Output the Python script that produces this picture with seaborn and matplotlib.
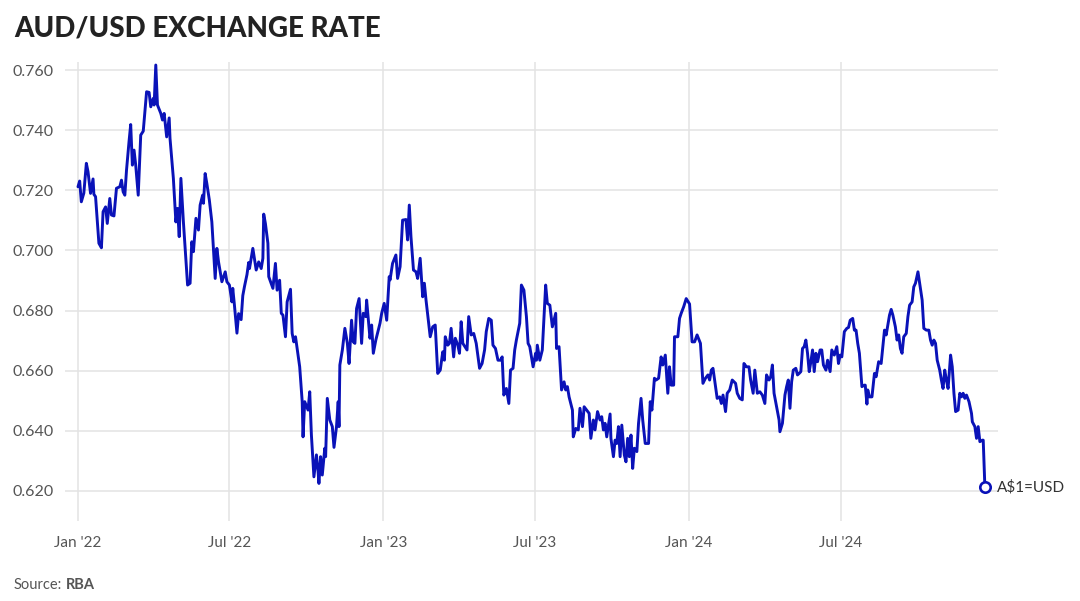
import numpy as np
import pandas as pd
import matplotlib
matplotlib.use("Agg")
import matplotlib.pyplot as plt
import matplotlib.dates as mdates
import seaborn as sns

# ---- data ----
start_date = "2022-01-01"
days = [0, 2, 4, 7, 10, 12, 15, 18, 19, 21, 25, 28, 30, 33, 35, 38, 40, 43, 46, 50,
        52, 54, 56, 58, 61, 63, 65, 67, 69, 72, 75, 78, 80, 82, 85, 87, 90, 91, 93, 95,
        99, 101, 103, 106, 109, 110, 114, 117, 119, 121, 123, 126, 131, 134, 136, 138, 141, 144, 146, 149,
        150, 152, 154, 157, 160, 164, 166, 168, 172, 176, 178, 181, 184, 185, 187, 190, 192, 195, 197, 199,
        202, 204, 205, 209, 213, 216, 219, 221, 222, 224, 227, 228, 233, 236, 238, 241, 243, 245, 248, 250,
        254, 256, 258, 260, 265, 268, 269, 271, 275, 277, 279, 282, 285, 287, 288, 290, 292, 295, 296, 298,
        301, 304, 306, 309, 311, 312, 313, 316, 319, 322, 324, 327, 329, 331, 333, 336, 339, 341, 344, 345,
        349, 351, 353, 356, 361, 363, 366, 369, 372, 373, 376, 380, 382, 385, 388, 392, 394, 396, 398, 401,
        404, 406, 409, 412, 414, 416, 421, 424, 427, 430, 433, 436, 438, 439, 442, 444, 446, 449, 451, 454,
        456, 458, 460, 465, 467, 470, 473, 476, 480, 483, 486, 488, 491, 494, 496, 499, 502, 505, 507, 509,
        512, 515, 517, 520, 522, 524, 528, 530, 533, 536, 538, 540, 544, 547, 548, 549, 552, 555, 559, 561,
        564, 567, 571, 572, 575, 578, 581, 583, 585, 587, 591, 592, 595, 598, 600, 603, 605, 608, 611, 613,
        616, 618, 621, 624, 626, 628, 630, 632, 634, 636, 637, 640, 642, 644, 646, 648, 650, 653, 655, 657,
        659, 661, 663, 665, 668, 670, 673, 675, 678, 682, 684, 686, 689, 691, 694, 697, 699, 702, 705, 707,
        709, 712, 713, 717, 719, 721, 724, 727, 731, 734, 737, 740, 744, 747, 750, 753, 755, 757, 759, 762,
        764, 767, 769, 771, 774, 776, 779, 782, 786, 788, 791, 794, 796, 799, 802, 804, 807, 809, 812, 815,
        818, 821, 823, 826, 828, 830, 832, 835, 838, 839, 842, 845, 847, 849, 851, 853, 855, 858, 860, 862,
        864, 866, 868, 870, 872, 874, 876, 878, 880, 882, 884, 887, 889, 891, 894, 896, 899, 901, 904, 907,
        909, 911, 913, 916, 919, 921, 923, 926, 928, 930, 932, 934, 937, 940, 941, 943, 944, 946, 949, 952,
        954, 957, 960, 962, 964, 966, 970, 972, 974, 977, 979, 981, 983, 985, 987, 990, 992, 994, 997, 999,
        1001, 1004, 1006, 1009, 1011, 1014, 1017, 1019, 1021, 1023, 1025, 1027, 1030, 1032, 1034, 1036, 1038, 1040, 1043, 1045,
        1047, 1049, 1052, 1054, 1056, 1058, 1060, 1062, 1065, 1068, 1069, 1072, 1074, 1076, 1078, 1081, 1082, 1084]
rate = [0.7212, 0.7231, 0.7162, 0.7191, 0.7290, 0.7262, 0.7190, 0.7238, 0.7187, 0.7179,
        0.7024, 0.7009, 0.7129, 0.7145, 0.7090, 0.7173, 0.7118, 0.7115, 0.7207, 0.7212,
        0.7234, 0.7195, 0.7184, 0.7267, 0.7362, 0.7419, 0.7284, 0.7334, 0.7284, 0.7184,
        0.7384, 0.7397, 0.7461, 0.7528, 0.7526, 0.7478, 0.7506, 0.7484, 0.7617, 0.7484,
        0.7456, 0.7434, 0.7456, 0.7378, 0.7441, 0.7373, 0.7240, 0.7095, 0.7140, 0.7046,
        0.7240, 0.7095, 0.6885, 0.6891, 0.7029, 0.6996, 0.7107, 0.7068, 0.7151, 0.7184,
        0.7157, 0.7256, 0.7223, 0.7168, 0.7095, 0.6907, 0.7007, 0.6962, 0.6896, 0.6929,
        0.6896, 0.6885, 0.6829, 0.6874, 0.6818, 0.6725, 0.6790, 0.6770, 0.6850, 0.6880,
        0.6920, 0.6960, 0.6940, 0.7007, 0.6935, 0.6962, 0.6940, 0.6974, 0.7121, 0.7090,
        0.7024, 0.6913, 0.6874, 0.6957, 0.6868, 0.6901, 0.6791, 0.6785, 0.6713, 0.6829,
        0.6871, 0.6724, 0.6696, 0.6713, 0.6613, 0.6497, 0.6380, 0.6497, 0.6469, 0.6530,
        0.6386, 0.6247, 0.6320, 0.6264, 0.6225, 0.6314, 0.6253, 0.6342, 0.6314, 0.6508,
        0.6436, 0.6414, 0.6345, 0.6414, 0.6497, 0.6414, 0.6619, 0.6669, 0.6741, 0.6691,
        0.6624, 0.6768, 0.6696, 0.6691, 0.6807, 0.6840, 0.6691, 0.6791, 0.6780, 0.6835,
        0.6708, 0.6752, 0.6658, 0.6702, 0.6758, 0.6791, 0.6824, 0.6768, 0.6913, 0.6902,
        0.6957, 0.6985, 0.6907, 0.6946, 0.7101, 0.7103, 0.7035, 0.7151, 0.7046, 0.6935,
        0.6929, 0.6907, 0.6974, 0.6846, 0.6891, 0.6835, 0.6713, 0.6746, 0.6752, 0.6591,
        0.6602, 0.6663, 0.6635, 0.6713, 0.6685, 0.6691, 0.6741, 0.6646, 0.6708, 0.6685,
        0.6658, 0.6763, 0.6691, 0.6669, 0.6780, 0.6719, 0.6724, 0.6691, 0.6608, 0.6624,
        0.6669, 0.6730, 0.6774, 0.6768, 0.6685, 0.6674, 0.6635, 0.6635, 0.6646, 0.6519,
        0.6541, 0.6491, 0.6602, 0.6608, 0.6669, 0.6702, 0.6758, 0.6885, 0.6868, 0.6780,
        0.6691, 0.6680, 0.6613, 0.6658, 0.6635, 0.6685, 0.6635, 0.6669, 0.6885, 0.6824,
        0.6818, 0.6746, 0.6791, 0.6674, 0.6680, 0.6536, 0.6563, 0.6536, 0.6547, 0.6513,
        0.6469, 0.6380, 0.6408, 0.6403, 0.6475, 0.6414, 0.6480, 0.6469, 0.6458, 0.6375,
        0.6436, 0.6403, 0.6464, 0.6436, 0.6447, 0.6403, 0.6425, 0.6380, 0.6419, 0.6456,
        0.6375, 0.6314, 0.6369, 0.6358, 0.6414, 0.6314, 0.6419, 0.6320, 0.6297, 0.6375,
        0.6314, 0.6386, 0.6275, 0.6342, 0.6331, 0.6425, 0.6508, 0.6436, 0.6358, 0.6358,
        0.6497, 0.6469, 0.6575, 0.6569, 0.6575, 0.6646, 0.6619, 0.6652, 0.6525, 0.6613,
        0.6552, 0.6552, 0.6713, 0.6713, 0.6774, 0.6791, 0.6813, 0.6840, 0.6822, 0.6696,
        0.6696, 0.6719, 0.6691, 0.6558, 0.6575, 0.6586, 0.6569, 0.6602, 0.6608, 0.6547,
        0.6508, 0.6513, 0.6491, 0.6519, 0.6464, 0.6525, 0.6536, 0.6569, 0.6558, 0.6525,
        0.6508, 0.6503, 0.6624, 0.6613, 0.6613, 0.6569, 0.6525, 0.6602, 0.6525, 0.6530,
        0.6519, 0.6491, 0.6586, 0.6569, 0.6580, 0.6619, 0.6525, 0.6480, 0.6436, 0.6397,
        0.6425, 0.6519, 0.6547, 0.6569, 0.6475, 0.6563, 0.6602, 0.6608, 0.6586, 0.6591,
        0.6597, 0.6674, 0.6680, 0.6702, 0.6658, 0.6597, 0.6630, 0.6669, 0.6597, 0.6658,
        0.6630, 0.6669, 0.6669, 0.6619, 0.6602, 0.6635, 0.6597, 0.6669, 0.6652, 0.6680,
        0.6624, 0.6652, 0.6646, 0.6730, 0.6741, 0.6744, 0.6768, 0.6774, 0.6735, 0.6735,
        0.6691, 0.6658, 0.6547, 0.6552, 0.6552, 0.6489, 0.6536, 0.6513, 0.6513, 0.6591,
        0.6580, 0.6630, 0.6624, 0.6680, 0.6735, 0.6719, 0.6785, 0.6804, 0.6785, 0.6746,
        0.6702, 0.6719, 0.6674, 0.6658, 0.6713, 0.6724, 0.6780, 0.6818, 0.6829, 0.6879,
        0.6891, 0.6929, 0.6891, 0.6835, 0.6741, 0.6735, 0.6735, 0.6702, 0.6685, 0.6702,
        0.6691, 0.6635, 0.6602, 0.6569, 0.6541, 0.6602, 0.6569, 0.6541, 0.6652, 0.6613,
        0.6525, 0.6464, 0.6469, 0.6525, 0.6513, 0.6525, 0.6508, 0.6519, 0.6497, 0.6458,
        0.6430, 0.6414, 0.6375, 0.6414, 0.6364, 0.6369, 0.6369, 0.6212]

y_ticks = [0.620, 0.640, 0.660, 0.680, 0.700, 0.720, 0.740, 0.760]
x_ticks = ["2022-01-01", "2022-07-01", "2023-01-01", "2023-07-01", "2024-01-01", "2024-07-01"]
x_tick_labels = ["Jan '22", "Jul '22", "Jan '23", "Jul '23", "Jan '24", "Jul '24"]
title = "AUD/USD EXCHANGE RATE"
series_label = "A$1=USD"
source_prefix = "Source:"
source_name = "RBA"

# ---- build frame ----
base = pd.Timestamp(start_date)
df = pd.DataFrame({"date": base + pd.to_timedelta(days, unit="D"), "rate": rate})

LINE = "#0a12b8"
GRID = "#e3e3e3"
TXT = "#555555"

sns.set_style("white")
plt.rcParams["font.family"] = ["Lato", "DejaVu Sans"]

fig = plt.figure(figsize=(10.8, 6.01), dpi=100)
ax = fig.add_axes([0.0602, 0.1331, 0.8639, 0.7637])

sns.lineplot(data=df, x="date", y="rate", ax=ax, color=LINE, linewidth=2.1, zorder=3)

last = df.iloc[-1]
ax.plot([last["date"]], [last["rate"]], marker="o", markersize=7.5,
        markerfacecolor="white", markeredgecolor=LINE, markeredgewidth=1.9,
        linestyle="none", zorder=4, clip_on=False)
ax.annotate(series_label, xy=(last["date"], last["rate"]), xytext=(9, 0),
            textcoords="offset points", va="center", ha="left",
            fontsize=11, color="#333333", annotation_clip=False)

ax.set_xlim(base - pd.Timedelta(days=15.5), base + pd.Timedelta(days=1099.7))
ax.set_ylim(0.6100, 0.7627)
ax.set_yticks(y_ticks)
ax.set_yticklabels([f"{v:.3f}" for v in y_ticks])
ax.set_xticks(pd.to_datetime(x_ticks))
ax.set_xticklabels(x_tick_labels)

ax.grid(True, color=GRID, linewidth=1.1)
ax.set_axisbelow(True)
for s in ax.spines.values():
    s.set_visible(False)
ax.tick_params(axis="y", length=0, pad=8, labelsize=11.5, labelcolor=TXT)
ax.tick_params(axis="x", length=0, pad=11, labelsize=11, labelcolor=TXT)
ax.set_xlabel("")
ax.set_ylabel("")

fig.text(0.013, 0.952, title, fontsize=20, fontweight="black", color="#222222",
         ha="left", va="center")
t1 = fig.text(0.013, 0.026, source_prefix, fontsize=10.5, color=TXT, ha="left", va="center")
fig.canvas.draw()
bb = t1.get_window_extent(renderer=fig.canvas.get_renderer())
x_next = bb.x1 / fig.bbox.width + 0.0035
fig.text(x_next, 0.026, source_name, fontsize=10.5, color=TXT, fontweight="bold",
         ha="left", va="center")

fig.savefig("out.png", dpi=100)
